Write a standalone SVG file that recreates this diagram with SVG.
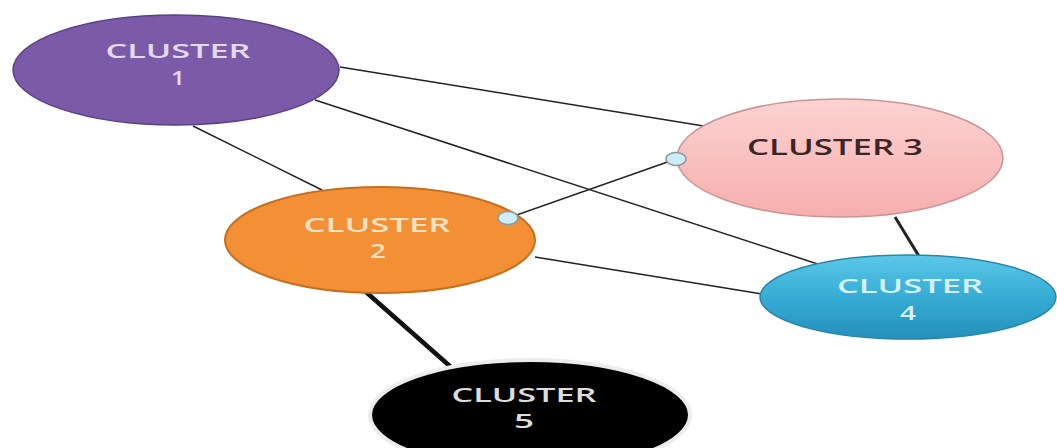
<svg xmlns="http://www.w3.org/2000/svg" width="1057" height="448" viewBox="0 0 1057 448">
<defs>
<linearGradient id="g3" x1="0" y1="0" x2="0" y2="1"><stop offset="0" stop-color="#fcd2d2"/><stop offset="1" stop-color="#f7aeae"/></linearGradient>
<linearGradient id="g4" x1="0" y1="0" x2="0" y2="1"><stop offset="0" stop-color="#5cc8e8"/><stop offset="0.5" stop-color="#36acd4"/><stop offset="1" stop-color="#2590bb"/></linearGradient>
</defs>
<style>
.lbl{font-family:"Open Sans","Liberation Sans",sans-serif;font-size:19px;font-weight:600;text-anchor:middle}
.ln{stroke:#222;stroke-width:1.5;fill:none}
.dot{fill:#cdeef8;stroke:#8a9aa0;stroke-width:1.5}
</style>
<rect width="1057" height="448" fill="#ffffff"/>
<g id="connectors">
<line class="ln" x1="340" y1="67" x2="716" y2="128"/>
<line class="ln" x1="315" y1="100" x2="830" y2="268"/>
<line class="ln" x1="193" y1="126" x2="322" y2="190"/>
<line class="ln" x1="508" y1="218" x2="676" y2="159"/>
<line class="ln" x1="535" y1="257" x2="762" y2="294"/>
<line class="ln" x1="895" y1="217" x2="925" y2="266" style="stroke-width:3"/>
<line class="ln" x1="366" y1="292" x2="452" y2="368" style="stroke-width:4.5;stroke:#111"/>
</g>
<g id="cluster1">
<ellipse cx="176" cy="70" rx="163" ry="55" fill="#7b5aa7" stroke="#5c4084" stroke-width="1.5"/>
<text class="lbl" x="178" y="58" fill="#e4daf0" textLength="145" lengthAdjust="spacingAndGlyphs">CLUSTER</text>
<text class="lbl" x="178" y="85" fill="#e4daf0" textLength="14" lengthAdjust="spacingAndGlyphs">1</text>
</g>
<g id="cluster3">
<ellipse cx="840" cy="158" rx="163" ry="59" fill="url(#g3)" stroke="#c99494" stroke-width="1.5"/>
<text class="lbl" x="835" y="155" fill="#3a2626" style="font-size:21px" textLength="176" lengthAdjust="spacingAndGlyphs">CLUSTER 3</text>
</g>
<g id="cluster2">
<ellipse cx="380" cy="240" rx="155" ry="53" fill="#f39035" stroke="#c47020" stroke-width="2"/>
<text class="lbl" x="377" y="232" fill="#fbe2c2" textLength="147" lengthAdjust="spacingAndGlyphs">CLUSTER</text>
<text class="lbl" x="378" y="258" fill="#fbe2c2" textLength="16" lengthAdjust="spacingAndGlyphs">2</text>
</g>
<g id="cluster4">
<ellipse cx="908" cy="297" rx="148" ry="42" fill="url(#g4)" stroke="#2a86aa" stroke-width="1.5"/>
<text class="lbl" x="910" y="293" fill="#d8f0fa" textLength="146" lengthAdjust="spacingAndGlyphs">CLUSTER</text>
<text class="lbl" x="908" y="320" fill="#d8f0fa" textLength="16" lengthAdjust="spacingAndGlyphs">4</text>
</g>
<g id="cluster5">
<ellipse cx="530" cy="415" rx="160" ry="55" fill="#000" stroke="#ececec" stroke-width="4"/>
<text class="lbl" x="524" y="402" fill="#dddddd" textLength="145" lengthAdjust="spacingAndGlyphs">CLUSTER</text>
<text class="lbl" x="524" y="428" fill="#dddddd" textLength="20" lengthAdjust="spacingAndGlyphs">5</text>
</g>
<g id="ports">
<ellipse class="dot" cx="508" cy="218" rx="10" ry="6.5"/>
<ellipse class="dot" cx="676" cy="159" rx="10" ry="6.5"/>
</g>
</svg>
